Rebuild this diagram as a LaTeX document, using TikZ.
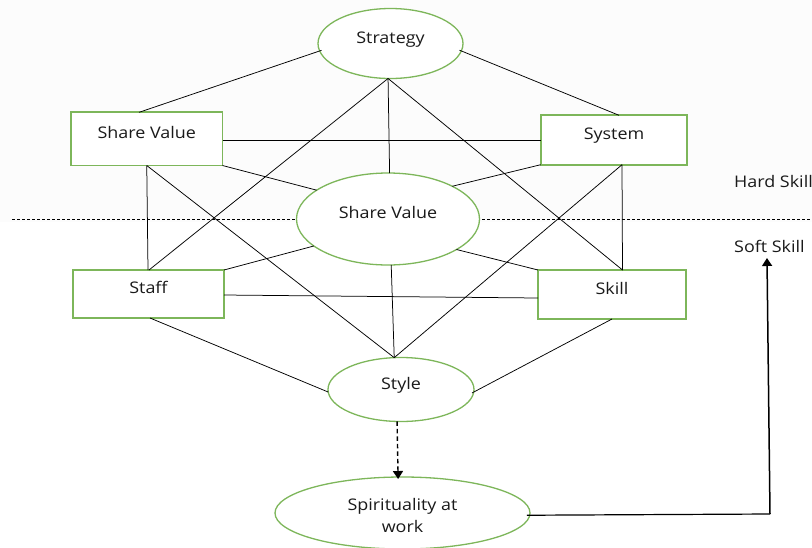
\documentclass[tikz,border=0pt]{standalone}
\usepackage{fontspec}
\setmainfont[FakeStretch=1.12]{Open Sans}
\usetikzlibrary{shapes.geometric,arrows.meta}
\definecolor{boxgreen}{HTML}{7DB65A}
\definecolor{inkc}{HTML}{1A1A1A}
\definecolor{topshade}{HTML}{FCFCFC}
\tikzset{
  base/.style={fill=white,draw=boxgreen,inner sep=0pt,outer sep=0pt,text=inkc,font=\fontsize{16}{21.5}\selectfont,align=center},
  rbox/.style={base,rectangle,line width=1.7pt},
  oval/.style={base,ellipse,line width=1.3pt},
  link/.style={draw=black,line width=0.75pt},
  divide/.style={draw=black,line width=0.6pt,dash pattern=on 3pt off 2pt},
  lift/.style={text depth=#1},
  side/.style={text=inkc,font=\fontsize{16}{16}\selectfont,anchor=west,inner sep=0pt},
}
\begin{document}
\begin{tikzpicture}[x=1pt,y=-1pt]
\useasboundingbox (0,0) rectangle (812,547);
\fill[topshade] (0,0) rectangle (812,222);
\coordinate (dl) at (12,219);
\coordinate (dr) at (812,219);
\draw[divide] (dl) -- (dr);
\node[oval,minimum width=145pt,minimum height=70pt,lift=11.5pt] (strategy) at (390.5,43.5) {Strategy};
\node[rbox,minimum width=151.5pt,minimum height=53.5pt,lift=12.5pt] (sharebox) at (146.75,138.75) {Share Value};
\node[rbox,minimum width=146.6pt,minimum height=49.4pt,lift=12.5pt] (system) at (614,140) {System};
\node[oval,minimum width=183pt,minimum height=92pt,lift=12.5pt] (shareoval) at (388,219) {Share Value};
\node[rbox,minimum width=151pt,minimum height=48pt,lift=13pt] (staff) at (148.5,294) {Staff};
\node[rbox,minimum width=148pt,minimum height=49pt,lift=13pt] (skill) at (612,294.5) {Skill};
\node[oval,minimum width=146pt,minimum height=64pt,lift=13pt] (style) at (401,389.5) {Style};
\node[oval,minimum width=255pt,minimum height=72pt] (spirit) at (402.5,513) {\rule{0pt}{17pt}Spirituality at\\work};
\node[side] (hard) at (734,181.5) {Hard Skill};
\node[side] (soft) at (734,246.5) {Soft Skill};
\coordinate (corner) at (770,514);
\coordinate (tip) at (767,258);
\draw[link,shorten >=-1pt,shorten <=-2pt] (strategy.186.5) -- ([xshift=-6.75pt]sharebox.north);
\draw[link,shorten <=-2pt] (strategy.-6.6) -- ([xshift=5pt]system.north);
\draw[link] (strategy.266) -- ([xshift=0.5pt]staff.north);
\draw[link] (strategy.266) -- (shareoval.88.2);
\draw[link] (strategy.266) -- ([xshift=10.5pt]skill.north);
\draw[link] ([yshift=-1.75pt]sharebox.east) -- ([yshift=-0.5pt]system.west);
\draw[link] (sharebox.south) -- ([xshift=-0.5pt]staff.north);
\draw[link] (sharebox.south) -- (style.102.5);
\draw[link] (sharebox.south east) -- (shareoval.158.7);
\draw[link] (shareoval.27.3) -- (system.south west);
\draw[link] ([xshift=8pt]system.south) -- ([xshift=10.5pt]skill.north);
\draw[link] ([xshift=8pt]system.south) -- (style.102.5);
\draw[link] (shareoval.200.3) -- (staff.north east);
\draw[link] (shareoval.-24.9) -- (skill.north west);
\draw[link] (shareoval.-86.3) -- (style.102.5);
\draw[link] ([yshift=-1pt]staff.east) -- ([yshift=-3.5pt]skill.west);
\draw[link] ([xshift=1.5pt]staff.south) -- (style.182);
\draw[link,shorten >=-2pt] (skill.south) -- (style.-2);
\draw[line width=1.4pt,dash pattern=on 4.5pt off 3pt,-{Triangle[length=8pt,width=10pt]},shorten >=-2pt] (style.-97) -- (spirit.97);
\draw[line width=1.2pt,shorten <=-3pt] (spirit.-1.3) -- (corner);
\draw[line width=1.5pt,-{Triangle[length=8pt,width=10pt]}] (corner) -- (tip);
\end{tikzpicture}
\end{document}
